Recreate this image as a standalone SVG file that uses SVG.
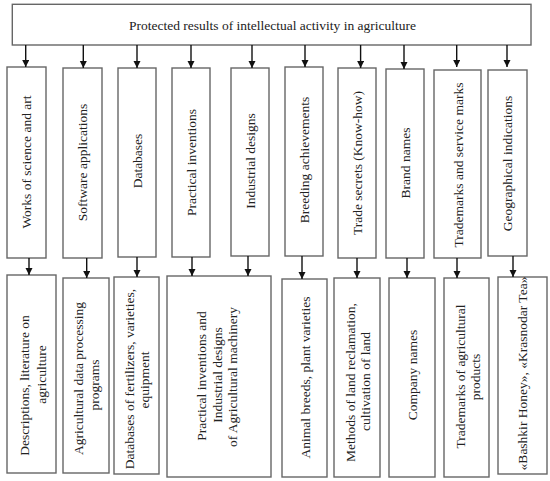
<svg xmlns="http://www.w3.org/2000/svg" width="550" height="481" viewBox="0 0 550 481">
<defs>
<marker id="ah" markerUnits="userSpaceOnUse" markerWidth="8" markerHeight="8" refX="7" refY="3.5" orient="auto">
<path d="M0,0 L7,3.5 L0,7 z" fill="#111"/>
</marker>
<style>
.box{fill:#fff;stroke:#666;stroke-width:1.4}
.t{font-family:"Liberation Serif","Times New Roman",serif;font-size:13.5px;fill:#222;text-anchor:middle}
.c line{stroke:#111;stroke-width:1.4;marker-end:url(#ah)}
</style>
</defs>
<rect width="550" height="481" fill="#fff"/>
<g id="header">
<rect class="box" x="12.3" y="4.3" width="518.7" height="40.7"/>
<text class="t" x="272.5" y="30">Protected results of intellectual activity in agriculture</text>
</g>
<g id="m1"><rect class="box" x="7" y="67" width="39" height="191"/><text class="t" transform="translate(31,162) rotate(-90)">Works of science and art</text></g>
<g id="m2"><rect class="box" x="63" y="68" width="39" height="190"/><text class="t" transform="translate(87,162.5) rotate(-90)">Software applications</text></g>
<g id="m3"><rect class="box" x="118" y="68" width="38" height="189"/><text class="t" transform="translate(141.5,161) rotate(-90)">Databases</text></g>
<g id="m4"><rect class="box" x="172" y="68" width="38" height="189"/><text class="t" transform="translate(195.5,162.5) rotate(-90)">Practical inventions</text></g>
<g id="m5"><rect class="box" x="231" y="68" width="38" height="188"/><text class="t" transform="translate(254.5,161) rotate(-90)">Industrial designs</text></g>
<g id="m6"><rect class="box" x="285" y="67" width="38" height="189"/><text class="t" transform="translate(308.5,160) rotate(-90)">Breeding achievements</text></g>
<g id="m7"><rect class="box" x="338" y="68" width="38" height="190"/><text class="t" transform="translate(361.5,163) rotate(-90)">Trade secrets (Know-how)</text></g>
<g id="m8"><rect class="box" x="386" y="69" width="38" height="189"/><text class="t" transform="translate(409.5,163) rotate(-90)">Brand names</text></g>
<g id="m9"><rect class="box" x="434" y="70" width="47" height="188"/><text class="t" transform="translate(463,165) rotate(-90)">Trademarks and service marks</text></g>
<g id="m10"><rect class="box" x="488" y="70" width="39" height="186"/><text class="t" transform="translate(512,163.5) rotate(-90)">Geographical indications</text></g>
<g id="b1"><rect class="box" x="7" y="275" width="49" height="198"/>
<text class="t" transform="translate(29,385.5) rotate(-90)">Descriptions, literature on</text>
<text class="t" transform="translate(45.7,374.5) rotate(-90)">agriculture</text></g>
<g id="b2"><rect class="box" x="63" y="278" width="46" height="195"/>
<text class="t" transform="translate(82.7,378.5) rotate(-90)">Agricultural data processing</text>
<text class="t" transform="translate(98.7,385) rotate(-90)">programs</text></g>
<g id="b3"><rect class="box" x="114" y="277" width="45" height="197"/>
<text class="t" transform="translate(133.5,379) rotate(-90)">Databases of fertilizers, varieties,</text>
<text class="t" transform="translate(149,380) rotate(-90)">equipment</text></g>
<g id="b4"><rect class="box" x="167" y="276" width="104" height="201"/>
<text class="t" transform="translate(206,376) rotate(-90)">Practical inventions and</text>
<text class="t" transform="translate(222,375) rotate(-90)">Industrial designs</text>
<text class="t" transform="translate(237,377) rotate(-90)">of Agricultural machinery</text></g>
<g id="b5"><rect class="box" x="282" y="279" width="45" height="198"/>
<text class="t" transform="translate(310,377.5) rotate(-90)">Animal breeds, plant varieties</text></g>
<g id="b6"><rect class="box" x="334" y="278" width="46" height="199"/>
<text class="t" transform="translate(355,382.5) rotate(-90)">Methods of land reclamation,</text>
<text class="t" transform="translate(370,381.5) rotate(-90)">cultivation of land</text></g>
<g id="b7"><rect class="box" x="389" y="278" width="46" height="199"/>
<text class="t" transform="translate(416.5,375) rotate(-90)">Company names</text></g>
<g id="b8"><rect class="box" x="444" y="278" width="45" height="199"/>
<text class="t" transform="translate(465,376.5) rotate(-90)">Trademarks of agricultural</text>
<text class="t" transform="translate(480,377) rotate(-90)">products</text></g>
<g id="b9"><rect class="box" x="498" y="277" width="49" height="197"/>
<text class="t" transform="translate(527,373.5) rotate(-90)">«Bashkir Honey», «Krasnodar Tea»</text></g>
<g id="connectors" class="c">
<line x1="25.7" y1="45" x2="25.7" y2="67"/>
<line x1="83.3" y1="45" x2="83.3" y2="68"/>
<line x1="137" y1="45" x2="137" y2="68"/>
<line x1="191" y1="45" x2="191" y2="68"/>
<line x1="252" y1="45" x2="252" y2="68"/>
<line x1="305" y1="45" x2="305" y2="67"/>
<line x1="360.6" y1="45" x2="360.6" y2="68"/>
<line x1="404" y1="45" x2="404" y2="69"/>
<line x1="456.7" y1="45" x2="456.7" y2="67"/>
<line x1="507" y1="45" x2="507" y2="67"/>
<line x1="29" y1="258" x2="29" y2="275"/>
<line x1="86.7" y1="258" x2="86.7" y2="278"/>
<line x1="137" y1="257" x2="137" y2="277"/>
<line x1="192" y1="257" x2="192" y2="276"/>
<line x1="248" y1="256" x2="248" y2="276"/>
<line x1="302" y1="256" x2="302" y2="279"/>
<line x1="357" y1="258" x2="357" y2="278"/>
<line x1="407" y1="258" x2="407" y2="278"/>
<line x1="457" y1="258" x2="457" y2="278"/>
<line x1="513" y1="256" x2="513" y2="277"/>
</g>
</svg>
